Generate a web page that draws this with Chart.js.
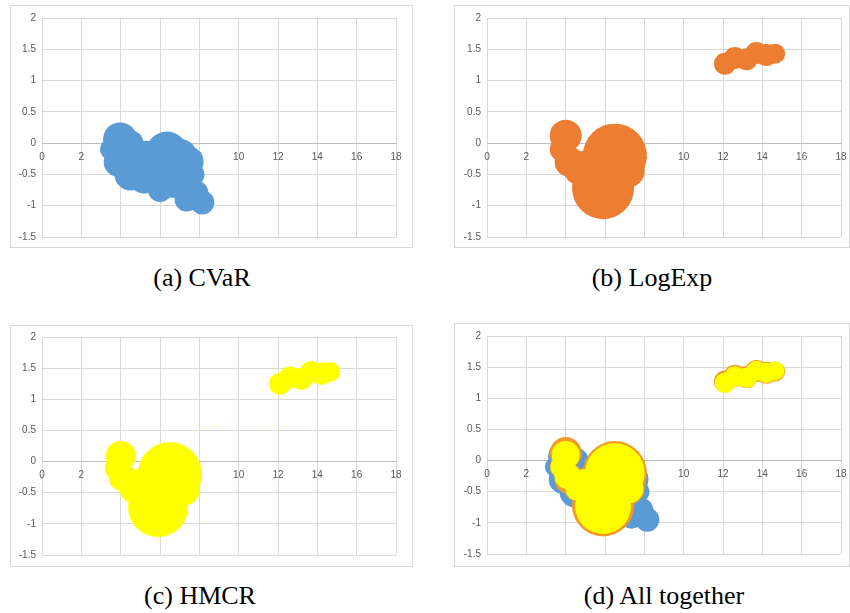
<!DOCTYPE html>
<html>
<head>
<meta charset="utf-8">
<script src="https://cdn.jsdelivr.net/npm/chart.js@4.4.0/dist/chart.umd.min.js"></script>
<style>
body { margin:0; background:#fff; width:850px; height:613px; position:relative; overflow:hidden; }
.frame { position:absolute; border:1px solid #d9d9d9; box-sizing:border-box; }
.frame canvas { position:absolute; left:0; top:0; }
.cap { position:absolute; width:300px; font-family:"Liberation Serif", serif; font-size:26px; color:#000; text-align:center; white-space:nowrap; }
</style>
</head>
<body>
<div class="frame" style="left:10px;top:5px;width:403px;height:243px"><canvas id="ca"></canvas></div>
<div class="frame" style="left:454px;top:5px;width:396px;height:243px"><canvas id="cb"></canvas></div>
<div class="frame" style="left:10px;top:325px;width:403px;height:242px"><canvas id="cc"></canvas></div>
<div class="frame" style="left:454px;top:323px;width:396px;height:244px"><canvas id="cd"></canvas></div>
<div class="cap" id="t0" style="left:52px;top:263px"></div>
<div class="cap" id="t1" style="left:502px;top:263px"></div>
<div class="cap" id="t2" style="left:50px;top:581px"></div>
<div class="cap" id="t3" style="left:514px;top:581px"></div>
<script>
var captions = ['(a) CVaR', '(b) LogExp', '(c) HMCR', '(d) All together'];
var xTicks = [0, 2, 4, 6, 8, 10, 12, 14, 16, 18];
var yTicks = [-1.5, -1, -0.5, 0, 0.5, 1, 1.5, 2];

// [x, y, bubble radius]
var cvar = [
  [3.97, 0.06, 17], [3.45, -0.1, 10], [4.5, 0.0, 13], [3.9, -0.3, 15],
  [4.5, -0.5, 16], [5.2, -0.55, 16], [6.0, -0.75, 12], [6.6, -0.6, 17],
  [7.35, -0.9, 12], [8.15, -0.95, 12], [7.8, -0.8, 13], [7.7, -0.5, 11],
  [7.4, -0.3, 16], [7.0, -0.22, 18], [6.35, -0.15, 21], [5.3, -0.2, 15],
  [5.8, -0.5, 16], [4.9, -0.25, 14], [7.1, -0.65, 14]
];
var logExp = [
  [4.0, 0.12, 16], [3.8, -0.1, 12], [4.2, -0.3, 15], [4.9, -0.35, 14],
  [4.6, -0.45, 13], [6.5, -0.2, 32], [5.9, -0.72, 31], [7.2, -0.45, 16],
  [12.1, 1.27, 11], [12.6, 1.36, 11], [13.2, 1.34, 11], [13.7, 1.44, 11],
  [14.2, 1.41, 11], [14.65, 1.43, 10]
];
var hmcr = [
  [4.0, 0.09, 15], [3.8, -0.1, 12], [4.1, -0.25, 14], [4.9, -0.35, 14],
  [4.6, -0.45, 13], [6.5, -0.2, 32], [5.9, -0.73, 30], [7.2, -0.45, 16],
  [12.1, 1.25, 11], [12.6, 1.35, 11], [13.2, 1.33, 11], [13.7, 1.44, 11],
  [14.2, 1.41, 11], [14.65, 1.44, 10]
];
var hmcrFaint = [
  [8.3, 0.55], [8.9, 0.58], [9.5, 0.6], [10.8, 0.48], [11.2, 0.56],
  [11.7, 0.6], [12.3, 0.58], [12.9, 0.6], [8.3, -0.95]
];

var blue = '#5b9bd5', orange = '#ed7d31', yellow = '#ffff00';

function pts(arr, k) {
  return arr.map(function (p) { return { x: p[0], y: p[1], r: (p[2] || 1.2) * (k || 1) }; });
}
function ds(arr, color, k) {
  return { data: pts(arr, k), backgroundColor: color, borderWidth: 0 };
}

function makeChart(id, w, h, pad, datasets) {
  var c = document.getElementById(id);
  c.width = w; c.height = h;
  var tickFont = { family: 'Liberation Sans', size: 10 };
  return new Chart(c, {
    type: 'bubble',
    data: { datasets: datasets },
    options: {
      responsive: false,
      animation: false,
      events: [],
      layout: { autoPadding: false, padding: { left: 0, right: pad.r, top: pad.t, bottom: pad.b } },
      plugins: { legend: { display: false }, tooltip: { enabled: false } },
      scales: {
        x: {
          type: 'linear', min: 0, max: 18, position: { y: 0 },
          afterBuildTicks: function (s) { s.ticks = xTicks.map(function (v) { return { value: v }; }); },
          afterFit: function (s) { s.height = 0; s.paddingLeft = 0; s.paddingRight = 0; },
          grid: { color: '#d9d9d9', drawTicks: false },
          border: { color: '#bfbfbf' },
          ticks: { color: '#595959', font: tickFont, padding: 8, maxRotation: 0, autoSkip: false,
                   callback: function (v) { return String(v); } }
        },
        y: {
          type: 'linear', min: -1.5, max: 2,
          afterBuildTicks: function (s) { s.ticks = yTicks.map(function (v) { return { value: v }; }); },
          afterFit: function (s) { s.width = pad.l; s.paddingTop = 0; s.paddingBottom = 0; },
          grid: { color: '#d9d9d9', drawTicks: false },
          border: { display: false },
          ticks: { color: '#595959', font: tickFont, padding: 6,
                   callback: function (v) { return String(v); } }
        }
      }
    }
  });
}

makeChart('ca', 401, 241, { l: 31, r: 16, t: 12, b: 10 }, [ds(cvar, blue)]);
makeChart('cb', 394, 241, { l: 32, r: 8, t: 12, b: 10 }, [ds(logExp, orange)]);
makeChart('cc', 401, 240, { l: 31, r: 16, t: 11, b: 11 },
  [ds(hmcr, yellow), ds(hmcrFaint, 'rgba(255,255,120,0.35)')]);
// first dataset is drawn on top: yellow, then orange, then blue
makeChart('cd', 394, 242, { l: 32, r: 8, t: 12, b: 12 },
  [ds(hmcr, yellow, 0.93), ds(logExp, '#f29b25'), ds(cvar, blue)]);

captions.forEach(function (t, i) { document.getElementById('t' + i).textContent = t; });
</script>
</body>
</html>
